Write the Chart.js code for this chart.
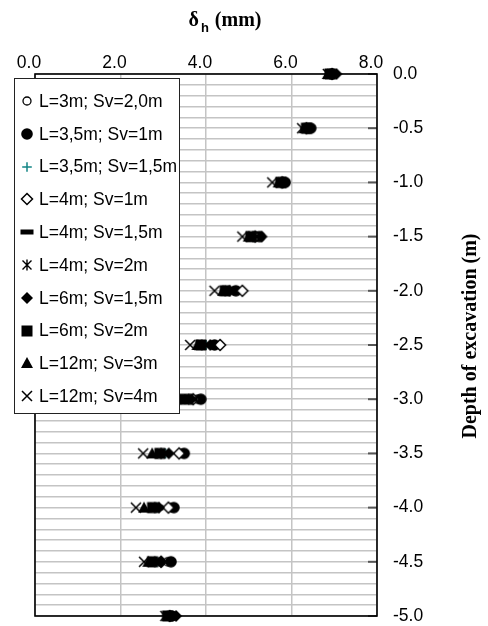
<!DOCTYPE html>
<html><head><meta charset="utf-8">
<script src="https://cdn.jsdelivr.net/npm/chart.js@4/dist/chart.umd.min.js"></script>
<style>html,body{margin:0;padding:0;background:#fff}#wrap{position:relative;width:488px;height:626px}</style>
</head><body><div id="wrap"><canvas id="c"></canvas></div>
<script>
// ---- data ----
const depths = [0, -0.5, -1.0, -1.5, -2.0, -2.5, -3.0, -3.5, -4.0, -4.5, -5.0];
const xTicks = [0, 2, 4, 6, 8];
const seriesLabels = ['L=3m; Sv=2,0m','L=3,5m; Sv=1m','L=3,5m; Sv=1,5m','L=4m; Sv=1m','L=4m; Sv=1,5m','L=4m; Sv=2m','L=6m; Sv=1,5m','L=6m; Sv=2m','L=12m; Sv=3m','L=12m; Sv=4m'];
const s_L3_Sv20  = [6.95, 6.40, 5.85, 5.20, 4.65, 4.15, 3.80, 3.45, 3.20, 3.10, 3.20];
const s_L35_Sv1  = [6.95, 6.45, 5.85, 5.25, 4.70, 4.20, 3.88, 3.49, 3.25, 3.18, 3.20];
const s_L35_Sv15 = [6.95, 6.40, 5.80, 5.15, 4.50, 4.00, 3.70, 3.05, 2.85, 2.85, 3.15];
const s_L4_Sv1   = [6.95, 6.35, 5.78, 5.15, 4.85, 4.33, 3.70, 3.37, 3.12, 2.95, 3.15];
const s_L4_Sv15  = [6.95, 6.40, 5.80, 5.15, 4.50, 3.95, 3.65, 3.00, 2.85, 2.85, 3.15];
const s_L4_Sv2   = [6.90, 6.35, 5.75, 5.10, 4.45, 3.90, 3.60, 2.95, 2.80, 2.80, 3.15];
const s_L6_Sv15  = [7.05, 6.40, 5.80, 5.30, 4.55, 4.10, 3.65, 3.13, 2.90, 2.95, 3.30];
const s_L6_Sv2   = [6.90, 6.35, 5.75, 5.05, 4.45, 3.88, 3.50, 2.92, 2.75, 2.75, 3.10];
const s_L12_Sv3  = [6.85, 6.30, 5.70, 5.00, 4.40, 3.80, 3.30, 2.74, 2.55, 2.65, 3.10];
const s_L12_Sv4  = [6.85, 6.25, 5.55, 4.85, 4.20, 3.63, 3.05, 2.53, 2.36, 2.55, 3.05];
const seriesValues = [s_L3_Sv20, s_L35_Sv1, s_L35_Sv15, s_L4_Sv1, s_L4_Sv15, s_L4_Sv2, s_L6_Sv15, s_L6_Sv2, s_L12_Sv3, s_L12_Sv4];
const markerKinds = ['ocircle','circle','plus','odiamond','dash','asterisk','diamond','square','triangle','x'];
const TEAL = '#138585';

// ---- markers ----
function makeMarker(kind){
  const s = 16, c = document.createElement('canvas');
  c.width = s; c.height = s;
  const g = c.getContext('2d');
  g.translate(s/2, s/2);
  g.fillStyle = '#000'; g.strokeStyle = '#000'; g.lineWidth = 1.4;
  const line = (a,b,c2,d)=>{g.moveTo(a,b);g.lineTo(c2,d);};
  g.beginPath();
  switch(kind){
    case 'ocircle': g.arc(0,0,4,0,Math.PI*2); g.fillStyle='#fff'; g.fill(); g.lineWidth=1.3; g.stroke(); break;
    case 'circle': g.arc(0,0,5.8,0,Math.PI*2); g.fill(); break;
    case 'plus': g.strokeStyle=TEAL; g.lineWidth=1.5; line(-4.8,0,4.8,0); line(0,-4.8,0,4.8); g.stroke(); break;
    case 'odiamond': g.moveTo(0,-5.5); g.lineTo(5.5,0); g.lineTo(0,5.5); g.lineTo(-5.5,0); g.closePath(); g.fillStyle='#fff'; g.fill(); g.lineWidth=1.5; g.stroke(); break;
    case 'dash': g.fillRect(-6.5,-2.5,13,5); break;
    case 'asterisk': line(-4.5,-4.5,4.5,4.5); line(-4.5,4.5,4.5,-4.5); line(0,-5.5,0,5.5); g.stroke(); break;
    case 'diamond': g.moveTo(0,-6); g.lineTo(6,0); g.lineTo(0,6); g.lineTo(-6,0); g.closePath(); g.fill(); break;
    case 'square': g.fillRect(-5.5,-5.5,11,11); break;
    case 'triangle': g.moveTo(0,-6); g.lineTo(6,5); g.lineTo(-6,5); g.closePath(); g.fill(); break;
    case 'x': g.lineWidth=1.5; line(-5,-5,5,5); line(-5,5,5,-5); g.stroke(); break;
  }
  return c;
}
const markers = markerKinds.map(makeMarker);

const datasets = seriesLabels.map((lab, i) => ({
  label: lab,
  data: depths.map((d, j) => ({x: seriesValues[i][j], y: d})),
  pointStyle: markers[i],
  pointRadius: 6,
  pointHoverRadius: 6,
  showLine: false,
  clip: false,
  order: seriesLabels.length - i,
  borderColor: i === 2 ? TEAL : '#000',
  backgroundColor: i === 2 ? TEAL : '#000'
}));

const SANS = '"Liberation Sans", Arial, sans-serif';
const SERIF = '"Liberation Serif", "Times New Roman", serif';

const decor = {
  id: 'decor',
  beforeDatasetsDraw(chart){
    const {ctx, chartArea: a, scales: {y}} = chart;
    ctx.save();
    ctx.strokeStyle = '#555'; ctx.lineWidth = 2;
    for (let k = 0; k <= 10; k++) {
      const py = y.getPixelForValue(-k * 0.5);
      ctx.beginPath(); ctx.moveTo(a.right - 9, py); ctx.lineTo(a.right, py); ctx.stroke();
    }
    ctx.strokeStyle = '#000'; ctx.lineWidth = 1.6;
    ctx.strokeRect(a.left, a.top, a.right - a.left, a.bottom - a.top);
    ctx.restore();
  },
  afterDraw(chart){
    const {ctx} = chart;
    ctx.save();
    ctx.fillStyle = '#000';
    // x title: δ h (mm)
    ctx.textBaseline = 'alphabetic'; ctx.textAlign = 'left';
    ctx.font = 'bold 20px ' + SERIF; const w1 = ctx.measureText('δ').width; const w3 = ctx.measureText('(mm)').width;
    ctx.font = 'bold 13px ' + SANS; const w2 = ctx.measureText('h').width;
    const total = w1 + 2 + w2 + 6 + w3;
    const x0 = 225 - total / 2;
    ctx.font = 'bold 20px ' + SERIF; ctx.fillText('δ', x0, 26);
    ctx.font = 'bold 13px ' + SANS; ctx.fillText('h', x0 + w1 + 2, 32);
    ctx.font = 'bold 20px ' + SERIF; ctx.fillText('(mm)', x0 + w1 + 2 + w2 + 6, 26);
    // y title
    ctx.save();
    ctx.translate(471, 336); ctx.rotate(-Math.PI / 2);
    ctx.textAlign = 'center'; ctx.textBaseline = 'middle';
    ctx.font = 'bold 20px ' + SERIF;
    ctx.fillText('Depth of excavation (m)', 0, 0);
    ctx.restore();
    // legend
    const lx = 14, ly = 78, lw = 165, lh = 335;
    ctx.fillStyle = '#fff'; ctx.fillRect(lx, ly, lw, lh);
    ctx.strokeStyle = '#222'; ctx.lineWidth = 1; ctx.strokeRect(lx + 0.5, ly + 0.5, lw, lh);
    ctx.font = '17.5px ' + SANS; ctx.fillStyle = '#000'; ctx.textAlign = 'left'; ctx.textBaseline = 'middle';
    chart.data.datasets.forEach((ds, i) => {
      const cy = 101 + i * 32.8;
      ctx.drawImage(ds.pointStyle, 27 - 8, Math.round(cy) - 8);
      ctx.fillText(ds.label, 39, cy + 1);
    });
    ctx.restore();
  }
};

new Chart(document.getElementById('c'), {
  type: 'scatter',
  data: { datasets },
  options: {
    responsive: true, maintainAspectRatio: false, animation: false,
    layout: { padding: { left: 35, right: 0, top: 0, bottom: 10 } },
    plugins: { legend: { display: false }, tooltip: { enabled: false } },
    scales: {
      x: {
        type: 'linear', position: 'top', min: xTicks[0], max: xTicks[xTicks.length - 1],
        afterBuildTicks(s){ s.ticks = xTicks.map(v => ({value: v})); },
        ticks: { callback: v => Number(v).toFixed(1), font: { family: SANS, size: 17.5 }, color: '#000', padding: 0, maxRotation: 0, labelOffset: -6 },
        grid: { color: '#c4c4c4', lineWidth: 1.5, drawTicks: false },
        border: { display: false },
        afterFit(s){ s.height = 74; }
      },
      y: {
        type: 'linear', position: 'right', min: -5, max: 0,
        ticks: {
          stepSize: 0.1, maxTicksLimit: 100, autoSkip: false,
          callback: v => (Math.abs(v * 2 - Math.round(v * 2)) < 1e-6 ? (Math.abs(v) < 1e-9 ? '0.0' : Number(v).toFixed(1)) : ''),
          font: { family: SANS, size: 17.5 }, color: '#000', padding: 16
        },
        grid: { color: '#c4c4c4', lineWidth: 1.5, drawTicks: false },
        border: { display: false },
        afterFit(s){ s.width = 111; s.paddingTop = 10; s.paddingBottom = 10; }
      }
    }
  },
  plugins: [decor]
});
</script>
</body></html>
